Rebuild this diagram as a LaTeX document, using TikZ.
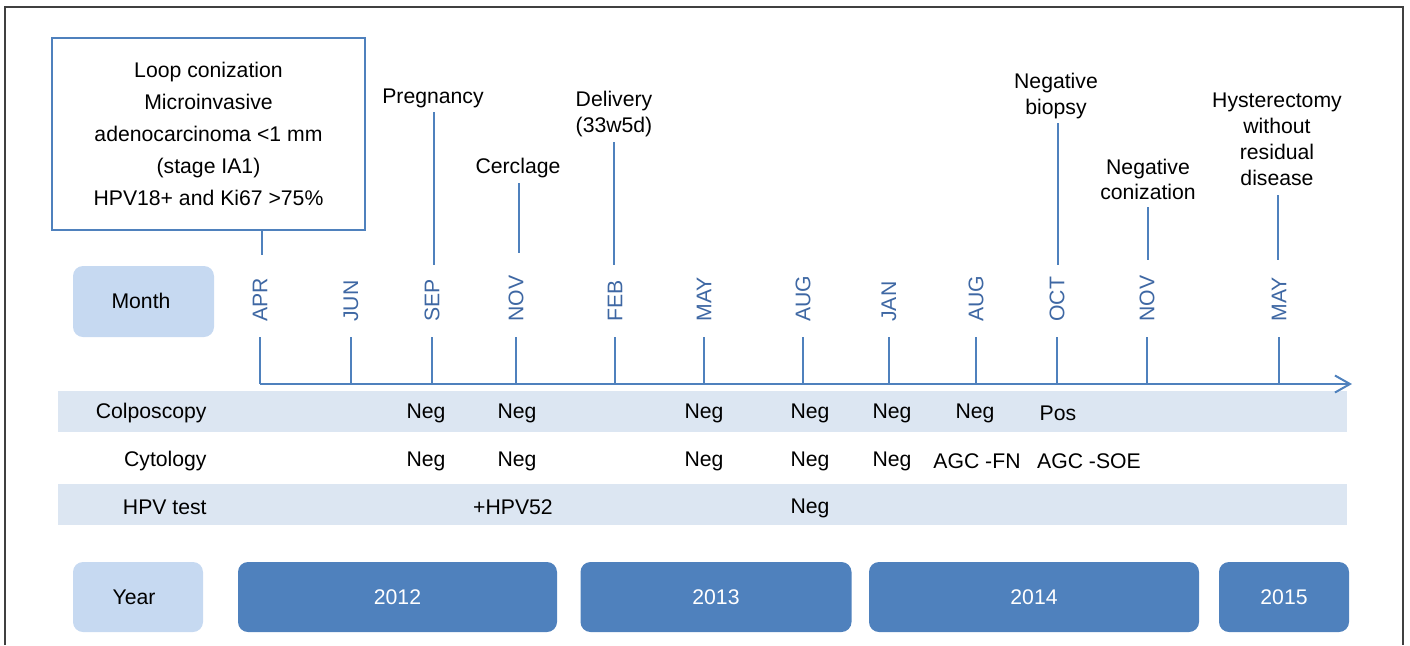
\documentclass[tikz,border=0pt]{standalone}
\usepackage{fontspec}
\setmainfont{Liberation Sans}
\usetikzlibrary{arrows.meta}
\definecolor{bline}{RGB}{79,129,189}
\definecolor{band}{RGB}{220,230,242}
\definecolor{lbox}{RGB}{198,217,241}
\definecolor{ybar}{RGB}{79,129,189}
\definecolor{mtext}{RGB}{62,103,163}
\definecolor{framec}{RGB}{64,64,64}
\begin{document}
\begin{tikzpicture}[x=0.5pt,y=-0.5pt,
  font=\fontsize{10.6}{12.6}\selectfont,
  evtext/.style={align=center, inner sep=0pt},
  evline/.style={draw=bline, line width=1pt},
  monthlbl/.style={rotate=90, anchor=west, text=mtext, inner sep=0pt},
  tickline/.style={draw=bline, line width=1pt},
  bandrow/.style={fill=band, draw=none, minimum width=644.5pt, minimum height=20.5pt, inner sep=0pt},
  labbox/.style={fill=lbox, rounded corners=5pt, draw=none, inner sep=0pt},
  yearbar/.style={fill=ybar, rounded corners=5pt, text=white, minimum height=35pt, inner sep=0pt},
  cell/.style={inner sep=0pt},
  rowlbl/.style={inner sep=0pt, anchor=east},
]
\useasboundingbox (0,0) rectangle (1410,645);
\draw[framec, line width=0.8pt] (5,645) -- (5,7) -- (1403,7) -- (1403,645);

% bands
\node[bandrow] (bandcol) at (702.5,411.5) {};
\node[bandrow] (bandhpv) at (702.5,504.5) {};

% first box
\node[draw=bline, line width=1pt, minimum width=156.5pt, minimum height=96pt, align=center,
      font=\fontsize{10.6}{16}\selectfont, inner sep=0pt] (loop) at (208.5,134)
  {Loop conization\\Microinvasive\\adenocarcinoma <1 mm\\(stage IA1)\\HPV18+ and Ki67 >75\%};
\coordinate (loopend) at (262,255);
\draw[evline] (loop.south -| loopend) -- (loopend);

% events
\node[evtext] (preg) at (433,98) {Pregnancy};
\coordinate (pregtop) at (434,112); \coordinate (pregbot) at (434,265);
\draw[evline] (pregtop) -- (pregbot);

\node[evtext] (cerc) at (518,168) {Cerclage};
\coordinate (cerctop) at (519,183); \coordinate (cercbot) at (519,253);
\draw[evline] (cerctop) -- (cercbot);

\node[evtext] (deliv) at (614,114) {Delivery\\(33w5d)};
\coordinate (delivtop) at (614,142); \coordinate (delivbot) at (614,265);
\draw[evline] (delivtop) -- (delivbot);

\node[evtext] (nbio) at (1056,96) {Negative\\biopsy};
\coordinate (nbiotop) at (1058,123); \coordinate (nbiobot) at (1058,265);
\draw[evline] (nbiotop) -- (nbiobot);

\node[evtext] (ncon) at (1148,179.5) {Negative\\conization};
\coordinate (ncontop) at (1148,207); \coordinate (nconbot) at (1148,260);
\draw[evline] (ncontop) -- (nconbot);

\node[evtext, font=\fontsize{10.6}{13}\selectfont] (hyst) at (1277,139) {Hysterectomy\\without\\residual\\disease};
\coordinate (hysttop) at (1278,195); \coordinate (hystbot) at (1278,260);
\draw[evline] (hysttop) -- (hystbot);

% month label box
\node[labbox, minimum width=70.5pt, minimum height=35.5pt] (monthbox) at (143.5,301.5) {};
\node[cell] (monthtxt) at (141,301) {Month};

% months and ticks
\foreach \x/\m/\n in {260/APR/a,351/JUN/b,432/SEP/c,516/NOV/d,615/FEB/e,704/MAY/f,803/AUG/g,889/JAN/h,976/AUG/i,1057/OCT/j,1147/NOV/k,1279/MAY/l}{
  \node[monthlbl] (m\n) at (\x,322) {\m};
  \coordinate (t\n) at (\x,337);
  \coordinate (b\n) at (\x,384);
  \draw[tickline] (t\n) -- (b\n);
}
\coordinate (axend) at (1352,384);
\draw[evline, -{Straight Barb[length=7.5pt,width=8.5pt,line width=1pt]}] (ba) -- (axend);

% row labels
\node[rowlbl] (lcol) at (207,413) {Colposcopy};
\node[rowlbl] (lcyt) at (207,461) {Cytology};
\node[rowlbl] (lhpv) at (207,507) {HPV test};

% colposcopy
\foreach \x/\t/\n in {426/Neg/1,517/Neg/2,704/Neg/3,810/Neg/4,892/Neg/5,975/Neg/6,1058/Pos/7}{
  \node[cell] (col\n) at (\x,413) {\t};
}
% cytology
\foreach \x/\t/\n in {426/Neg/1,517/Neg/2,704/Neg/3,810/Neg/4,892/Neg/5,977/AGC -FN/6,1089/AGC -SOE/7}{
  \node[cell] (cyt\n) at (\x,461) {\t};
}
% hpv
\node[cell] (hpv1) at (513,507) {+HPV52};
\node[cell] (hpv2) at (810,508) {Neg};

% years
\node[labbox, minimum width=65pt, minimum height=35pt] (yearbox) at (138,597) {};
\node[cell] (yeartxt) at (134,597) {Year};
\node[yearbar, minimum width=159.5pt] (y2012) at (397.5,597) {2012};
\node[yearbar, minimum width=135.5pt] (y2013) at (716,597) {2013};
\node[yearbar, minimum width=165pt] (y2014) at (1034,597) {2014};
\node[yearbar, minimum width=65pt] (y2015) at (1284,597) {2015};
\end{tikzpicture}
\end{document}
